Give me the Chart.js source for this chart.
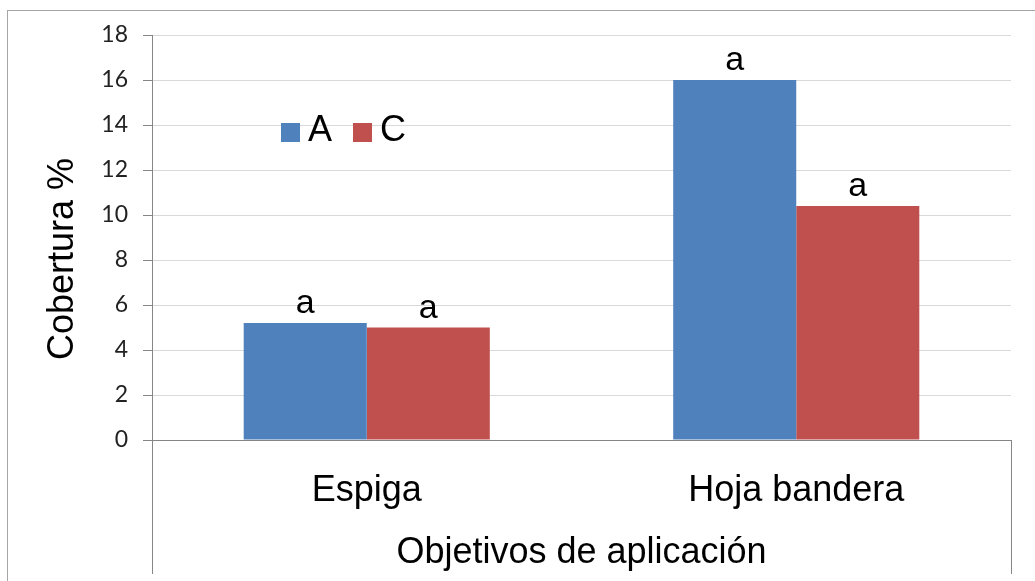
<!DOCTYPE html>
<html>
<head>
<meta charset="utf-8">
<title>Cobertura %</title>
<script src="https://cdn.jsdelivr.net/npm/chart.js@4/dist/chart.umd.min.js"></script>
<style>
    html, body { margin: 0; padding: 0; background: #fff; }
    canvas { display: block; }
</style>
</head>
<body>
<canvas id="myChart" width="1035" height="581"></canvas>
<script>
const categories = ['Espiga', 'Hoja bandera'];
const seriesNames = ['A', 'C'];
const valuesA = [5.2, 16.0];
const valuesC = [5.0, 10.4];
const lettersA = ['a', 'a'];
const lettersC = ['a', 'a'];
const yMin = 0;
const yMax = 18;
const yStep = 2;

const blue = '#4f81bd';
const red = '#c0504d';
const bigFont = '"Liberation Sans", Arial, sans-serif';

// white background plus the thin frame around the whole chart
const framePlugin = {
    id: 'frame',
    beforeDraw(chart) {
        const ctx = chart.ctx;
        ctx.save();
        ctx.fillStyle = '#fff';
        ctx.fillRect(0, 0, chart.width, chart.height);
        ctx.strokeStyle = '#a6a6a6';
        ctx.lineWidth = 1;
        ctx.strokeRect(7.5, 10.5, chart.width + 20, chart.height + 20);
        ctx.restore();
    },
    afterDraw(chart) {
        // side lines of the category box under the plot
        const ctx = chart.ctx;
        const area = chart.chartArea;
        ctx.save();
        ctx.strokeStyle = '#868686';
        ctx.lineWidth = 1;
        ctx.beginPath();
        ctx.moveTo(Math.round(area.left) + 0.5, area.bottom);
        ctx.lineTo(Math.round(area.left) + 0.5, chart.height - 7);
        ctx.moveTo(Math.round(area.right) + 0.5, area.bottom);
        ctx.lineTo(Math.round(area.right) + 0.5, chart.height - 7);
        ctx.stroke();

        // y axis title
        ctx.translate(63, 259);
        ctx.rotate(-Math.PI / 2);
        ctx.fillStyle = '#000';
        ctx.font = '36px ' + bigFont;
        ctx.textAlign = 'center';
        ctx.textBaseline = 'middle';
        ctx.fillText('Cobertura %', 0, 0);
        ctx.restore();
    }
};

// significance letters above each bar
const lettersPlugin = {
    id: 'letters',
    afterDatasetsDraw(chart) {
        const ctx = chart.ctx;
        ctx.save();
        ctx.fillStyle = '#000';
        ctx.font = '34px ' + bigFont;
        ctx.textAlign = 'center';
        ctx.textBaseline = 'alphabetic';
        chart.data.datasets.forEach((ds, i) => {
            const meta = chart.getDatasetMeta(i);
            meta.data.forEach((bar, j) => {
                ctx.fillText(ds.letters[j], bar.x, bar.y - 10);
            });
        });
        ctx.restore();
    }
};

// legend drawn inside the plot area
const insideLegend = {
    id: 'insideLegend',
    afterDraw(chart) {
        const ctx = chart.ctx;
        let x = 281;
        const y = 123;
        ctx.save();
        ctx.font = '36px ' + bigFont;
        ctx.textBaseline = 'middle';
        chart.data.datasets.forEach(ds => {
            ctx.fillStyle = ds.backgroundColor;
            ctx.fillRect(x, y, 19, 19);
            ctx.fillStyle = '#000';
            ctx.fillText(ds.label, x + 27, y + 8);
            x += 27 + ctx.measureText(ds.label).width + 21;
        });
        ctx.restore();
    }
};

const ctx = document.getElementById('myChart').getContext('2d');
const myChart = new Chart(ctx, {
    type: 'bar',
    data: {
        labels: categories,
        datasets: [{
            label: seriesNames[0],
            data: valuesA,
            letters: lettersA,
            backgroundColor: blue
        }, {
            label: seriesNames[1],
            data: valuesC,
            letters: lettersC,
            backgroundColor: red
        }]
    },
    options: {
        responsive: false,
        animation: false,
        events: [],
        categoryPercentage: 0.573,
        barPercentage: 1,
        layout: {
            padding: { left: 0, top: 35, right: 24, bottom: 0 }
        },
        plugins: {
            legend: { display: false },
            tooltip: { enabled: false }
        },
        scales: {
            x: {
                grid: { display: false },
                border: { display: true, color: '#868686', width: 1 },
                ticks: {
                    color: '#000',
                    padding: 21,
                    font: { family: bigFont, size: 36 }
                },
                title: {
                    display: true,
                    text: 'Objetivos de aplicación',
                    color: '#000',
                    padding: { top: 0, bottom: 6 },
                    font: { family: bigFont, size: 36 }
                },
                afterFit(scale) {
                    scale.height = 141;
                }
            },
            y: {
                min: yMin,
                max: yMax,
                grid: {
                    color: '#d9d9d9',
                    tickColor: '#868686',
                    tickLength: 9
                },
                border: { display: true, color: '#868686', width: 1 },
                ticks: {
                    stepSize: yStep,
                    color: '#222',
                    padding: 15,
                    font: { family: 'Lato, "Open Sans", sans-serif', size: 23 }
                },
                afterFit(scale) {
                    scale.width = 152;
                }
            }
        }
    },
    plugins: [framePlugin, lettersPlugin, insideLegend]
});
</script>
</body>
</html>
